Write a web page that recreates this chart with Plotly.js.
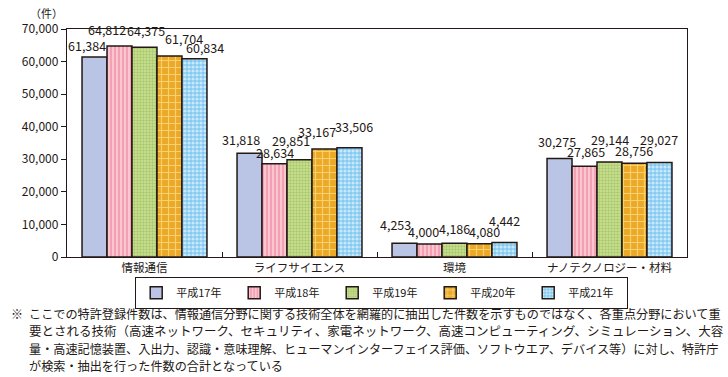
<!DOCTYPE html>
<html><head><meta charset="utf-8">
<script src="https://cdn.plot.ly/plotly-3.0.1.min.js"></script>
<style>html,body{margin:0;padding:0;background:#fff}</style>
</head><body>
<div id="chart" style="width:728px;height:377px"></div>
<script>
const categories = ["情報通信", "ライフサイエンス", "環境", "ナノテクノロジー・材料"];
const seriesNames = ["平成17年", "平成18年", "平成19年", "平成20年", "平成21年"];
const h17 = [61384, 31818, 4253, 30275];
const h18 = [64812, 28634, 4000, 27865];
const h19 = [64375, 29851, 4186, 29144];
const h20 = [61704, 33167, 4080, 28756];
const h21 = [60834, 33506, 4442, 29027];
const yTicks = [0, 10000, 20000, 30000, 40000, 50000, 60000, 70000];
const footnoteLines = [
  "ここでの特許登録件数は、情報通信分野に関する技術全体を網羅的に抽出した件数を示すものではなく、各重点分野において重",
  "要とされる技術（高速ネットワーク、セキュリティ、家電ネットワーク、高速コンピューティング、シミュレーション、大容",
  "量・高速記憶装置、入出力、認識・意味理解、ヒューマンインターフェイス評価、ソフトウエア、デバイス等）に対し、特許庁",
  "が検索・抽出を行った件数の合計となっている"
];

// label placement nudges (pixels) per series, per category — styling only
const nudgeX = [[-7.5, -9, -9.5, -3], [-12.5, 0.5, -6.5, 1], [1.5, -9, -0.5, 0], [14.5, -7, 5, 0], [10.5, 4.5, 0, 0]];
const nudgeY = [[3, 5, 10, 8], [8, 3, 4, 6], [8, 11, 6.5, 14], [9, 9, 3.7, 4], [3, 13, 13.5, 14]];

const FONT = '"Noto Sans CJK JP", "Noto Sans", sans-serif';
const INK = '#231815';
const styles = [
  {color: '#bac4e4', pattern: {shape: ''}},
  {color: '#f5aebd', pattern: {shape: '|', fgcolor: '#fcd6de', bgcolor: '#f3a0b2', size: 4, solidity: 0.35, fillmode: 'replace'}},
  {color: '#c6dc8c', pattern: {shape: '.', fgcolor: '#a9c86a', bgcolor: '#cfe39c', size: 3, solidity: 0.5, fillmode: 'replace'}},
  {color: '#eeb032', pattern: {shape: '+', fgcolor: '#f7d070', bgcolor: '#eca928', size: 7, solidity: 0.3, fillmode: 'replace'}},
  {color: '#8fd0f2', pattern: {shape: '.', fgcolor: '#c8eafc', bgcolor: '#84c9f0', size: 4, solidity: 0.5, fillmode: 'replace'}}
];
const values = [h17, h18, h19, h20, h21];

const W = 728, H = 377, M = {l: 67, r: 41, t: 29, b: 120};
const plotW = W - M.l - M.r, plotH = H - M.t - M.b;
const BARGAP = 0.194;
const barPx = plotW / categories.length * (1 - BARGAP) / values.length;

const data = values.map((v, i) => ({
  type: 'bar',
  name: seriesNames[i],
  x: categories,
  y: v,
  marker: {color: styles[i].color, pattern: styles[i].pattern, line: {color: INK, width: 1.5}},
  hoverinfo: 'skip'
}));

const annotations = [
  {xref: 'paper', yref: 'paper', x: -21/plotW, y: 1 + 16/plotH, xanchor: 'center', yanchor: 'middle',
   text: '（件）', showarrow: false, font: {family: FONT, size: 11, color: INK}},
  {xref: 'paper', yref: 'paper', x: -58/plotW, y: (257-313)/plotH, xanchor: 'left', yanchor: 'middle',
   text: '※', showarrow: false, font: {family: FONT, size: 12, color: INK}}
];
values.forEach((v, i) => {
  v.forEach((n, c) => {
    annotations.push({xref: 'x', yref: 'y', x: categories[c], y: n, xanchor: 'center', yanchor: 'bottom',
      xshift: (i - (values.length - 1) / 2) * barPx + nudgeX[i][c], yshift: nudgeY[i][c] - 2,
      text: n.toLocaleString('en-US'), showarrow: false, borderpad: 0,
      font: {family: FONT, size: 12.5, color: INK}});
  });
});
const footSizes = [12.15, 12.5, 12.15, 12.15];
footnoteLines.forEach((t, k) => {
  annotations.push({xref: 'paper', yref: 'paper', x: -40/plotW, y: (257 - (313 + k*17.5))/plotH,
    xanchor: 'left', yanchor: 'middle', text: t, showarrow: false,
    font: {family: FONT, size: footSizes[k], color: INK}});
});

const layout = {
  width: W, height: H,
  margin: M,
  paper_bgcolor: '#fff', plot_bgcolor: '#fff',
  barmode: 'group', bargap: BARGAP, bargroupgap: 0,
  font: {family: FONT, color: INK, size: 12},
  showlegend: true,
  legend: {orientation: 'h', x: 68/plotW, y: -20/plotH, xanchor: 'left', yanchor: 'top',
    bordercolor: INK, borderwidth: 1.2, font: {family: FONT, size: 11, color: INK},
    entrywidth: 53, entrywidthmode: 'pixels', itemwidth: 30, traceorder: 'normal', valign: 'middle'},
  xaxis: {showline: true, linecolor: INK, linewidth: 1.2, mirror: true,
    ticks: 'inside', tickson: 'boundaries', ticklen: 5, tickcolor: INK, tickwidth: 1,
    tickfont: {family: FONT, size: 11.5, color: INK}, showgrid: false, fixedrange: true},
  yaxis: {range: [0, 70000], tickvals: yTicks, tickformat: ',d', showline: true, linecolor: INK, linewidth: 1.2,
    mirror: true, ticks: 'outside', ticklen: 5, tickcolor: INK, showgrid: false, zeroline: false,
    tickfont: {family: FONT, size: 12, color: INK}, fixedrange: true},
  annotations: annotations
};

Plotly.newPlot('chart', data, layout, {displayModeBar: false, staticPlot: true});
</script>
</body></html>
